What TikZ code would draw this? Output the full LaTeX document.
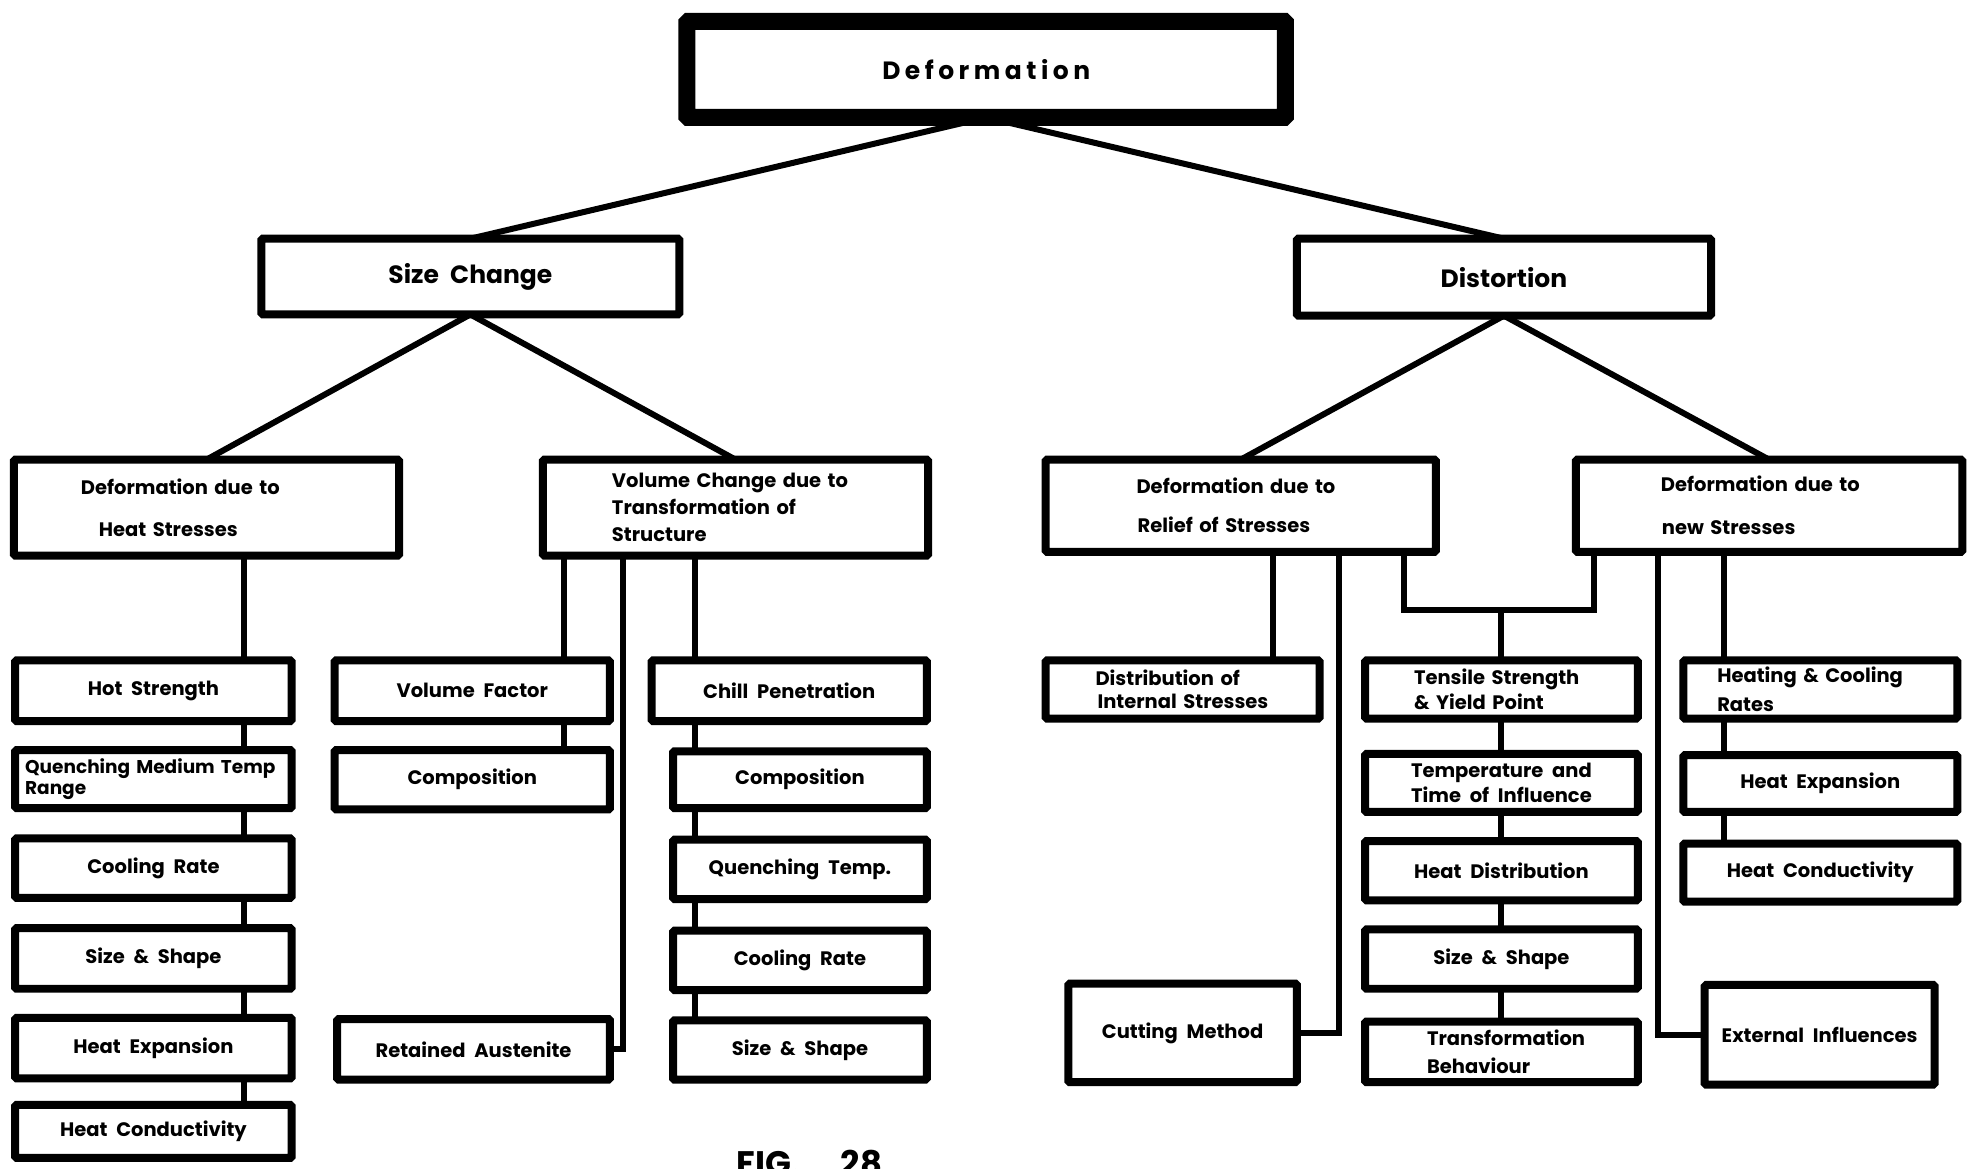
\documentclass[tikz,border=0pt]{standalone}
\usepackage{fontspec}
\setmainfont{Poppins}
\usetikzlibrary{calc}

% one drawing unit = 1.2628pt
\newcommand\pxu{1.2628}
\newcommand\ind[1]{\hspace*{#1pt}}
\newcommand\widespace{\spaceskip=0.45em plus 0.1em minus 0.05em\relax}
% framed box with centred text: [options]{name}{x1}{y1}{x2}{y2}{text}
\newcommand\ctrbox[7][]{%
  \pgfmathsetmacro\bw{(#5-#3)*\pxu}%
  \pgfmathsetmacro\bh{(#6-#4)*\pxu}%
  \node[box, minimum width=\bw pt, minimum height=\bh pt, anchor=north west, #1] (#2) at (#3,#4) {#7};%
}
% framed box with left-set text lines
\newcommand\lftbox[7][]{%
  \pgfmathsetmacro\bw{(#5-#3)*\pxu}%
  \pgfmathsetmacro\bh{(#6-#4)*\pxu}%
  \node[box, minimum width=\bw pt, minimum height=\bh pt, text width=\bw pt, align=left, anchor=north west, #1] (#2) at (#3,#4) {#7};%
}

\begin{document}
\begin{tikzpicture}[x=1.2628pt, y=-1.2628pt,
  box/.style={draw=black, line width=8pt, fill=white, rectangle, rounded corners=1.5pt,
    inner sep=0pt, outer sep=0pt, align=center,
    font=\fontsize{19.5}{23}\selectfont\bfseries\widespace},
  bsk/.style={font=\fontsize{19.5}{#1}\selectfont\bfseries\widespace},
  tight/.style={font=\fontsize{18.5}{#1}\selectfont\bfseries},
  topbox/.style={line width=17pt,
    font=\fontsize{25}{30}\selectfont\bfseries\addfontfeatures{LetterSpace=18}},
  title/.style={font=\fontsize{25}{30}\selectfont\bfseries\widespace},
  link/.style={draw=black, line width=6pt},
  figlabel/.style={inner sep=0pt, font=\fontsize{34}{40}\selectfont\bfseries}
]
\useasboundingbox (0,0) rectangle (1568,925);

% ---- top levels
\ctrbox[topbox]{def}{544}{17}{1018}{93}{Deformation}
\ctrbox[title]{sc}{207}{189}{538}{249}{Size Change}
\ctrbox[title]{dis}{1027}{189}{1355}{250}{Distortion}

\lftbox[bsk=42]{hs}{11}{364}{316}{440}{\ind{67}Deformation due to\\\ind{85}Heat Stresses}
\lftbox[bsk=27]{vc}{430}{364}{735}{440}{\ind{69}Volume Change due to\\\ind{69}Transformation of\\\ind{69}Structure}
\lftbox[bsk=39]{rel}{828}{364}{1137}{437}{\ind{91}Deformation due to\\\ind{92}Relief of Stresses}
\lftbox[bsk=43]{nst}{1248}{364}{1554}{437}{\ind{85}Deformation due to\\\ind{86}new Stresses}

% ---- heat stresses column
\ctrbox{a1}{12}{523}{231}{571}{Hot Strength}
\lftbox[tight=21]{a2}{12}{594}{231}{640}{\ind{10}Quenching Medium Temp\\\ind{10}Range}
\ctrbox{a3}{12}{664}{231}{711}{Cooling Rate}
\ctrbox{a4}{12}{735}{231}{783}{Size \& Shape}
\ctrbox{a5}{12}{806}{231}{854}{Heat Expansion}
\ctrbox{a6}{12}{875}{231}{917}{Heat Conductivity}

% ---- volume change columns
\ctrbox{b1}{265}{523}{483}{571}{Volume Factor}
\ctrbox{b2}{265}{594}{483}{641}{Composition}
\ctrbox{b3}{267}{807}{483}{855}{Retained Austenite}
\ctrbox{b4}{516}{523}{734}{571}{Chill Penetration}
\ctrbox{b5}{533}{595}{734}{640}{Composition}
\ctrbox{b6}{533}{665}{734}{712}{Quenching Temp.}
\ctrbox{b7}{533}{737}{734}{784}{Cooling Rate}
\ctrbox{b8}{533}{808}{734}{855}{Size \& Shape}

% ---- relief of stresses / shared column
\lftbox[bsk=23]{c1}{828}{523}{1045}{569}{\ind{50}Distribution of\\\ind{52}Internal Stresses}
\ctrbox{c2}{846}{779}{1027}{857}{Cutting Method}
\lftbox[bsk=25]{t1}{1081}{523}{1297}{569}{\ind{49}Tensile Strength\\\ind{49}\& Yield Point}
\ctrbox[bsk=25]{t2}{1081}{597}{1297}{643}{Temperature and\\Time of Influence}
\ctrbox{t3}{1081}{666}{1297}{713}{Heat Distribution}
\ctrbox{t4}{1081}{736}{1297}{783}{Size \& Shape}
\lftbox[bsk=28]{t5}{1081}{809}{1297}{857}{\ind{62}Transformation\\\ind{62}Behaviour}

% ---- new stresses column
\lftbox[bsk=29]{d1}{1333}{523}{1550}{569}{\ind{34}Heating \& Cooling\\\ind{34}Rates}
\ctrbox{d2}{1333}{598}{1550}{643}{Heat Expansion}
\ctrbox{d3}{1333}{668}{1550}{714}{Heat Conductivity}
\ctrbox{d4}{1350}{780}{1532}{859}{External Influences}

\node[figlabel, anchor=north] (fig) at (641,911) {FIG.\hspace{40pt}28};

% ---- connector columns
\coordinate (xA) at (193,0);
\coordinate (xB1) at (447,0);
\coordinate (xB2) at (493,0);
\coordinate (xB3) at (550,0);
\coordinate (xC1) at (1008,0);
\coordinate (xC2) at (1060,0);
\coordinate (xC3) at (1112,0);
\coordinate (xC4) at (1189,0);
\coordinate (xD0) at (1262,0);
\coordinate (xD1) at (1313,0);
\coordinate (xD2) at (1365,0);
\coordinate (yC) at (0,483);

% ---- tree branches
\draw[link] (def.south) -- (sc.north);
\draw[link] (def.south) -- (dis.north);
\draw[link] (sc.south) -- (hs.north);
\draw[link] (sc.south) -- (vc.north);
\draw[link] (dis.south) -- (rel.north);
\draw[link] (dis.south) -- (nst.north);

% heat stresses chain
\draw[link] (hs.south -| xA) -- (a1.north -| xA);
\foreach \p/\q in {a1/a2,a2/a3,a3/a4,a4/a5,a5/a6}
  \draw[link] (\p.south -| xA) -- (\q.north -| xA);

% volume change branches
\draw[link] (vc.south -| xB1) -- (b1.north -| xB1);
\draw[link] (b1.south -| xB1) -- (b2.north -| xB1);
\draw[link] (vc.south -| xB2) |- (b3.east);
\draw[link] (vc.south -| xB3) -- (b4.north -| xB3);
\foreach \p/\q in {b4/b5,b5/b6,b6/b7,b7/b8}
  \draw[link] (\p.south -| xB3) -- (\q.north -| xB3);

% relief of stresses branches
\draw[link] (rel.south -| xC1) -- (c1.north -| xC1);
\draw[link] (rel.south -| xC2) |- (c2.east);
\draw[link] (rel.south -| xC3) -- (xC3 |- yC) -- (xD0 |- yC) -- (nst.south -| xD0);
\draw[link] (xC4 |- yC) -- (t1.north -| xC4);
\foreach \p/\q in {t1/t2,t2/t3,t3/t4,t4/t5}
  \draw[link] (\p.south -| xC4) -- (\q.north -| xC4);

% new stresses branches
\draw[link] (nst.south -| xD1) |- (d4.west);
\draw[link] (nst.south -| xD2) -- (d1.north -| xD2);
\foreach \p/\q in {d1/d2,d2/d3}
  \draw[link] (\p.south -| xD2) -- (\q.north -| xD2);
\end{tikzpicture}
\end{document}
